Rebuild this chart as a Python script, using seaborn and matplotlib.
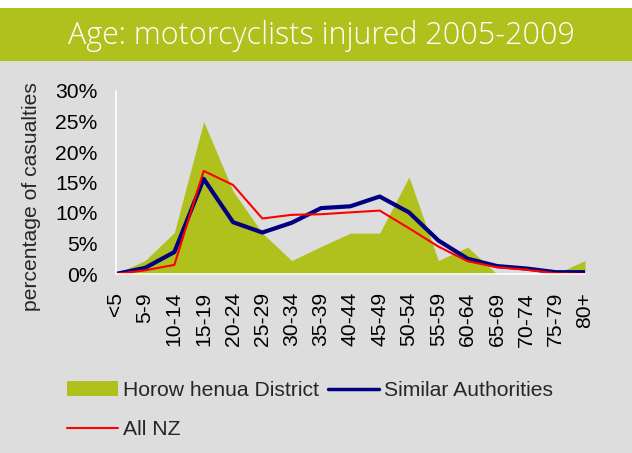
import matplotlib
matplotlib.use("Agg")
import matplotlib.pyplot as plt
import seaborn as sns
import pandas as pd
from matplotlib.patches import Patch, Rectangle
from matplotlib.lines import Line2D
from matplotlib.ticker import PercentFormatter

age_groups = ["<5", "5-9", "10-14", "15-19", "20-24", "25-29", "30-34", "35-39",
              "40-44", "45-49", "50-54", "55-59", "60-64", "65-69", "70-74", "75-79", "80+"]
horowhenua = [0.0, 2.2, 6.8, 25.0, 13.6, 6.7, 2.2, 4.5, 6.7, 6.7, 15.9, 2.2, 4.4, 0.0, 0.0, 0.0, 2.2]
similar = [0.0, 1.0, 3.6, 15.6, 8.5, 6.8, 8.4, 10.8, 11.1, 12.7, 10.1, 5.5, 2.5, 1.3, 0.9, 0.3, 0.3]
all_nz = [0.0, 0.6, 1.5, 16.9, 14.6, 9.1, 9.7, 9.8, 10.1, 10.4, 7.5, 4.5, 2.1, 1.1, 0.7, 0.1, 0.0]

title = "Age: motorcyclists injured 2005-2009"
ylabel = "percentage of casualties"
labels = ["Horow henua District", "Similar Authorities", "All NZ"]

GREEN = "#B0C01C"
BG = "#DDDDDD"
NAVY = "#000080"
RED = "#FF0000"
FS = 15.2

df = pd.DataFrame({"pos": range(len(age_groups)), "age": age_groups,
                   "horowhenua": horowhenua, "similar": similar, "all_nz": all_nz})

sns.set_style("white")
plt.rcParams["font.family"] = ["Liberation Sans", "DejaVu Sans"]

fig = plt.figure(figsize=(6.32, 4.53), dpi=100, facecolor=BG)
fig.patches.append(Rectangle((0, 1 - 8 / 453), 1, 8 / 453, transform=fig.transFigure,
                             facecolor="white", edgecolor="none", zorder=0))
fig.patches.append(Rectangle((0, 1 - 61 / 453), 1, 53 / 453, transform=fig.transFigure,
                             facecolor=GREEN, edgecolor="none", zorder=0))
fig.text(321 / 632, 1 - 36 / 453, title, color="white", fontsize=22,
         family=["Open Sans", "DejaVu Sans"], fontweight="light", ha="center", va="center")

ax = fig.add_axes([115.7 / 632, 1 - 274 / 453, (585 - 115.7) / 632, (274 - 91) / 453])
ax.set_facecolor(BG)

ax.fill_between(df["pos"], 0, df["horowhenua"], color=GREEN, linewidth=0, zorder=1)
sns.lineplot(data=df, x="pos", y="similar", ax=ax, color=NAVY, linewidth=3.0, zorder=3)
sns.lineplot(data=df, x="pos", y="all_nz", ax=ax, color=RED, linewidth=1.5, zorder=4)

ax.set_xlim(0, len(age_groups) - 1)
ax.set_ylim(0, 30)
ax.set_yticks([0, 5, 10, 15, 20, 25, 30])
ax.yaxis.set_major_formatter(PercentFormatter(decimals=0))
ax.set_xticks(df["pos"])
ax.set_xticklabels(age_groups, rotation=90, va="top", ha="center")
ax.set_xlabel("")
ax.set_ylabel("")
for s in ["top", "right"]:
    ax.spines[s].set_visible(False)
for s in ["left", "bottom"]:
    ax.spines[s].set_color("white")
    ax.spines[s].set_linewidth(1.2)
ax.tick_params(axis="both", colors="white", labelcolor="black", labelsize=FS,
               length=5, width=1.2, direction="out")
ax.tick_params(axis="y", pad=8)
ax.tick_params(axis="x", pad=8)
for sp in ax.spines.values():
    sp.set_zorder(5)

fig.text(32 / 632, 1 - 197 / 453, ylabel, rotation=90, fontsize=FS,
         ha="center", va="center")

handles = [Patch(facecolor=GREEN, edgecolor="none"),
           Line2D([], [], color=RED, linewidth=1.5),
           Line2D([], [], color=NAVY, linewidth=2.5)]
leg = fig.legend(handles, [labels[0], labels[2], labels[1]], ncol=2,
                 loc="upper left", bbox_to_anchor=(67 / 632, 1 - 381 / 453),
                 frameon=False, fontsize=FS, handlelength=2.4, handletextpad=0.25,
                 columnspacing=0.45, labelspacing=0.95, borderaxespad=0, borderpad=0)

fig.savefig("out.png", dpi=100, facecolor=BG)
